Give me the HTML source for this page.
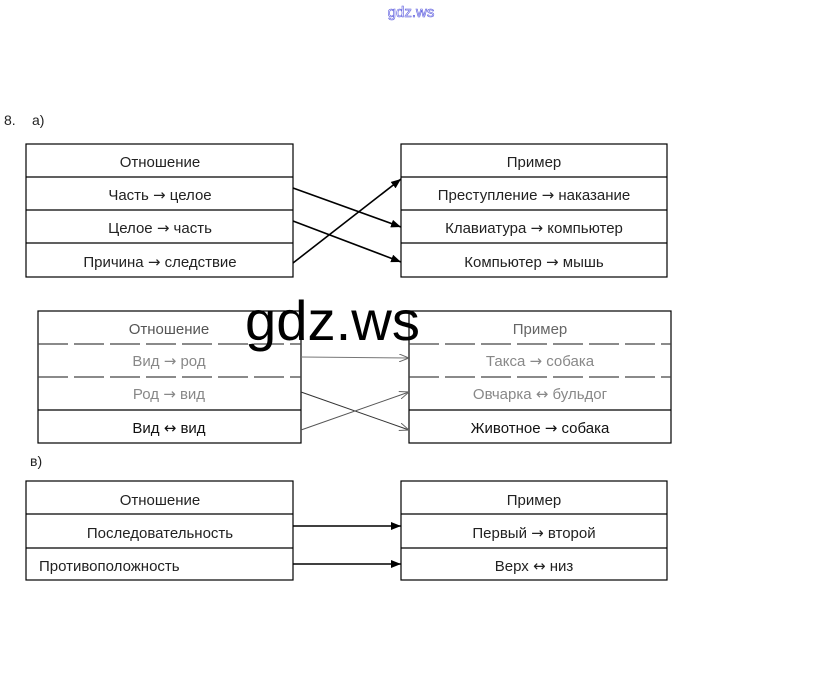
<!DOCTYPE html>
<html><head><meta charset="utf-8"><style>
html,body{margin:0;padding:0;background:#fff;}
svg{display:block;}
text{font-family:"Liberation Sans","DejaVu Sans",sans-serif;}
.a{font-family:"DejaVu Sans",sans-serif;font-size:15px;}
</style></head><body>
<svg width="823" height="686" viewBox="0 0 823 686" xmlns="http://www.w3.org/2000/svg">
<defs>
<marker id="ah" markerWidth="10" markerHeight="8" refX="10" refY="4" orient="auto" markerUnits="userSpaceOnUse">
<path d="M0,0 L10,4 L0,8 z" fill="#000"/></marker>
<marker id="ag" markerWidth="10" markerHeight="8" refX="10" refY="4" orient="auto" markerUnits="userSpaceOnUse">
<path d="M0,0 L10,4 L0,8" fill="none" stroke="#666"/></marker>
</defs>
<text x="411" y="17" font-size="15" fill="#fff" stroke="#5555dd" stroke-width="0.6" text-anchor="middle">gdz.ws</text>
<text x="4" y="125" font-size="14" fill="#222">8.</text>
<text x="32" y="125" font-size="14" fill="#222">а)</text>

<g fill="none" stroke="#000" stroke-width="1.2">
<rect x="26" y="144" width="267" height="133"/>
<line x1="26" y1="177" x2="293" y2="177"/><line x1="26" y1="210" x2="293" y2="210"/><line x1="26" y1="243" x2="293" y2="243"/>
<rect x="401" y="144" width="266" height="133"/>
<line x1="401" y1="177" x2="667" y2="177"/><line x1="401" y1="210" x2="667" y2="210"/><line x1="401" y1="243" x2="667" y2="243"/>
<line x1="293" y1="188" x2="401" y2="227" marker-end="url(#ah)" stroke-width="1.6"/>
<line x1="293" y1="221" x2="401" y2="262" marker-end="url(#ah)" stroke-width="1.6"/>
<line x1="293" y1="263" x2="401" y2="179" marker-end="url(#ah)" stroke-width="1.6"/>
</g>
<g font-size="15" fill="#222" text-anchor="middle">
<text x="160" y="167">Отношение</text>
<text x="160" y="200">Часть <tspan class="a">→</tspan> целое</text>
<text x="160" y="233">Целое <tspan class="a">→</tspan> часть</text>
<text x="160" y="267">Причина <tspan class="a">→</tspan> следствие</text>
<text x="534" y="167">Пример</text>
<text x="534" y="200">Преступление <tspan class="a">→</tspan> наказание</text>
<text x="534" y="233">Клавиатура <tspan class="a">→</tspan> компьютер</text>
<text x="534" y="267">Компьютер <tspan class="a">→</tspan> мышь</text>
</g>

<g fill="none" stroke="#000" stroke-width="1.2">
<rect x="38" y="311" width="263" height="132"/>
<line x1="38" y1="344" x2="301" y2="344" stroke="#444" stroke-dasharray="30 6"/>
<line x1="38" y1="377" x2="301" y2="377" stroke="#444" stroke-dasharray="30 6"/>
<line x1="38" y1="410" x2="301" y2="410"/>
<rect x="409" y="311" width="262" height="132"/>
<line x1="409" y1="344" x2="671" y2="344" stroke="#444" stroke-dasharray="30 6"/>
<line x1="409" y1="377" x2="671" y2="377" stroke="#444" stroke-dasharray="30 6"/>
<line x1="409" y1="410" x2="671" y2="410"/>
<line x1="301" y1="357" x2="409" y2="358" stroke="#777" stroke-width="1" marker-end="url(#ag)"/>
<line x1="301" y1="392" x2="409" y2="430" stroke="#333" stroke-width="1" marker-end="url(#ag)"/>
<line x1="301" y1="430" x2="409" y2="392" stroke="#555" stroke-width="1" marker-end="url(#ag)"/>
</g>
<g font-size="15" text-anchor="middle">
<text x="169" y="334" fill="#555">Отношение</text>
<text x="169" y="366" fill="#888">Вид <tspan class="a">→</tspan> род</text>
<text x="169" y="399" fill="#888">Род <tspan class="a">→</tspan> вид</text>
<text x="169" y="433" fill="#111">Вид <tspan class="a">↔</tspan> вид</text>
<text x="540" y="334" fill="#666">Пример</text>
<text x="540" y="366" fill="#888">Такса <tspan class="a">→</tspan> собака</text>
<text x="540" y="399" fill="#888">Овчарка <tspan class="a">↔</tspan> бульдог</text>
<text x="540" y="433" fill="#111">Животное <tspan class="a">→</tspan> собака</text>
</g>
<text x="245" y="340" font-size="56" fill="#000" textLength="175" lengthAdjust="spacingAndGlyphs">gdz.ws</text>

<text x="30" y="466" font-size="14" fill="#222">в)</text>
<g fill="none" stroke="#000" stroke-width="1.2">
<rect x="26" y="481" width="267" height="99"/>
<line x1="26" y1="514" x2="293" y2="514"/><line x1="26" y1="548" x2="293" y2="548"/>
<rect x="401" y="481" width="266" height="99"/>
<line x1="401" y1="514" x2="667" y2="514"/><line x1="401" y1="548" x2="667" y2="548"/>
<line x1="293" y1="526" x2="401" y2="526" marker-end="url(#ah)" stroke-width="1.6"/>
<line x1="293" y1="564" x2="401" y2="564" marker-end="url(#ah)" stroke-width="1.6"/>
</g>
<g font-size="15" fill="#222">
<text x="160" y="505" text-anchor="middle">Отношение</text>
<text x="160" y="538" text-anchor="middle">Последовательность</text>
<text x="39" y="571">Противоположность</text>
<text x="534" y="505" text-anchor="middle">Пример</text>
<text x="534" y="538" text-anchor="middle">Первый <tspan class="a">→</tspan> второй</text>
<text x="534" y="571" text-anchor="middle">Верх <tspan class="a">↔</tspan> низ</text>
</g>
</svg>
</body></html>
